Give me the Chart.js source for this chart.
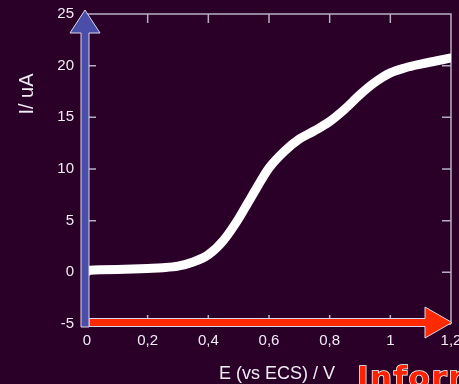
<!DOCTYPE html>
<html>
<head>
<meta charset="utf-8">
<script src="https://cdn.jsdelivr.net/npm/chart.js@4/dist/chart.umd.min.js"></script>
<style>
  html, body { margin: 0; padding: 0; background: #2a0029; }
  #wrap { width: 459px; height: 384px; position: relative; }
</style>
</head>
<body>
<div id="wrap"><canvas id="cv" width="459" height="384"></canvas></div>
<script>
// data
const potential = [0, 0.01, 0.05, 0.1, 0.15, 0.2, 0.25, 0.3, 0.35, 0.4, 0.45, 0.5, 0.53, 0.56, 0.6,
  0.65, 0.7, 0.75, 0.8, 0.85, 0.9, 0.95, 1.0, 1.05, 1.1, 1.15, 1.2];
const current = [0.05, 0.2, 0.25, 0.28, 0.32, 0.38, 0.45, 0.6, 1.0, 1.7, 3.1, 5.2, 6.7, 8.2, 10.1,
  11.7, 12.9, 13.7, 14.6, 15.8, 17.2, 18.4, 19.3, 19.8, 20.15, 20.45, 20.75];
const xTicks = [0, 0.2, 0.4, 0.6, 0.8, 1, 1.2];
const yTicks = [-5, 0, 5, 10, 15, 20, 25];
const xTitle = 'E (vs ECS) / V';
const yTitle = 'I/ uA';
const stamp = 'Information';

const labelColor = '#f0ecf4';
const frameColor = '#b8aec4';

// frame, inner ticks, arrows and titles
const decor = {
  id: 'decor',
  beforeDatasetsDraw(chart) {
    const { ctx, chartArea: a, scales: { x, y } } = chart;
    ctx.save();
    ctx.strokeStyle = frameColor;
    ctx.lineWidth = 1.5;
    ctx.beginPath();
    ctx.moveTo(a.left, a.top);
    ctx.lineTo(a.right, a.top);
    ctx.lineTo(a.right, a.bottom);
    xTicks.forEach(v => {
      const px = x.getPixelForValue(v);
      ctx.moveTo(px, a.top); ctx.lineTo(px, a.top + 9);
      ctx.moveTo(px, a.bottom); ctx.lineTo(px, a.bottom - 9);
    });
    yTicks.forEach(v => {
      const py = y.getPixelForValue(v);
      ctx.moveTo(a.right, py); ctx.lineTo(a.right - 9, py);
      ctx.moveTo(a.left, py); ctx.lineTo(a.left + 9, py);
    });
    ctx.stroke();
    ctx.restore();
  },
  afterDatasetsDraw(chart) {
    const { ctx, chartArea: a } = chart;
    ctx.save();
    ctx.strokeStyle = '#dcd6ea';
    ctx.lineWidth = 1;

    // red x arrow
    const ry = a.bottom - 1.5;
    ctx.fillStyle = '#ff2a00';
    ctx.beginPath();
    ctx.moveTo(a.left + 2, ry - 4);
    ctx.lineTo(a.right - 26, ry - 4);
    ctx.lineTo(a.right - 26, ry - 15.5);
    ctx.lineTo(a.right + 1, ry);
    ctx.lineTo(a.right - 26, ry + 15.5);
    ctx.lineTo(a.right - 26, ry + 4);
    ctx.lineTo(a.left + 2, ry + 4);
    ctx.closePath();
    ctx.fill();
    ctx.stroke();

    // blue y arrow
    const bx = a.left - 2;
    ctx.fillStyle = '#4a4ea8';
    ctx.beginPath();
    ctx.moveTo(bx - 4, a.bottom + 3);
    ctx.lineTo(bx - 4, a.top + 19);
    ctx.lineTo(bx - 15, a.top + 19);
    ctx.lineTo(bx, a.top - 4);
    ctx.lineTo(bx + 15, a.top + 19);
    ctx.lineTo(bx + 4, a.top + 19);
    ctx.lineTo(bx + 4, a.bottom + 3);
    ctx.closePath();
    ctx.fill();
    ctx.stroke();

    // titles
    ctx.fillStyle = labelColor;
    ctx.font = '18px "Liberation Sans", Arial, sans-serif';
    ctx.textAlign = 'center';
    ctx.textBaseline = 'alphabetic';
    ctx.fillText(xTitle, 277, 379);
    ctx.save();
    ctx.font = '20px "Liberation Sans", Arial, sans-serif';
    ctx.translate(33, 94);
    ctx.rotate(-Math.PI / 2);
    ctx.fillText(yTitle, 0, 0);
    ctx.restore();

    // red stamp word, cut by the bottom edge
    ctx.font = 'bold 31px "DejaVu Sans", sans-serif';
    ctx.letterSpacing = '1.5px';
    ctx.textAlign = 'left';
    ctx.lineWidth = 1.5;
    ctx.strokeStyle = '#ffffff';
    ctx.fillStyle = '#ff2200';
    ctx.strokeText(stamp, 357, 388);
    ctx.fillText(stamp, 357, 388);
    ctx.restore();
  }
};

const fmt = v => String(Math.round(v * 10) / 10).replace('.', ',');

new Chart(document.getElementById('cv'), {
  type: 'scatter',
  data: {
    datasets: [{
      data: potential.map((p, i) => ({ x: p, y: current[i] })),
      showLine: true,
      borderColor: '#ffffff',
      borderWidth: 9,
      pointRadius: 0,
      cubicInterpolationMode: 'monotone',
      borderCapStyle: 'round'
    }]
  },
  options: {
    responsive: false,
    animation: false,
    devicePixelRatio: 1,
    layout: { padding: { left: 0, top: 14, right: 8, bottom: 0 } },
    plugins: { legend: { display: false }, tooltip: { enabled: false } },
    scales: {
      x: {
        type: 'linear', min: 0, max: 1.2,
        afterBuildTicks: s => { s.ticks = xTicks.map(v => ({ value: v })); },
        afterFit: s => { s.height = 60; s.paddingLeft = 0; s.paddingRight = 0; },
        grid: { display: false, drawTicks: false },
        border: { display: false },
        ticks: {
          color: labelColor, padding: 8, maxRotation: 0, autoSkip: false,
          font: { family: '"Liberation Sans", Arial, sans-serif', size: 15 },
          callback: v => fmt(v)
        }
      },
      y: {
        type: 'linear', min: -5, max: 25,
        afterBuildTicks: s => { s.ticks = yTicks.map(v => ({ value: v })); },
        afterFit: s => { s.width = 87; s.paddingTop = 0; s.paddingBottom = 0; },
        grid: { display: false, drawTicks: false },
        border: { display: false },
        ticks: {
          color: labelColor, padding: 13, autoSkip: false,
          font: { family: '"Liberation Sans", Arial, sans-serif', size: 15 },
          callback: v => fmt(v)
        }
      }
    }
  },
  plugins: [decor]
});
</script>
</body>
</html>
